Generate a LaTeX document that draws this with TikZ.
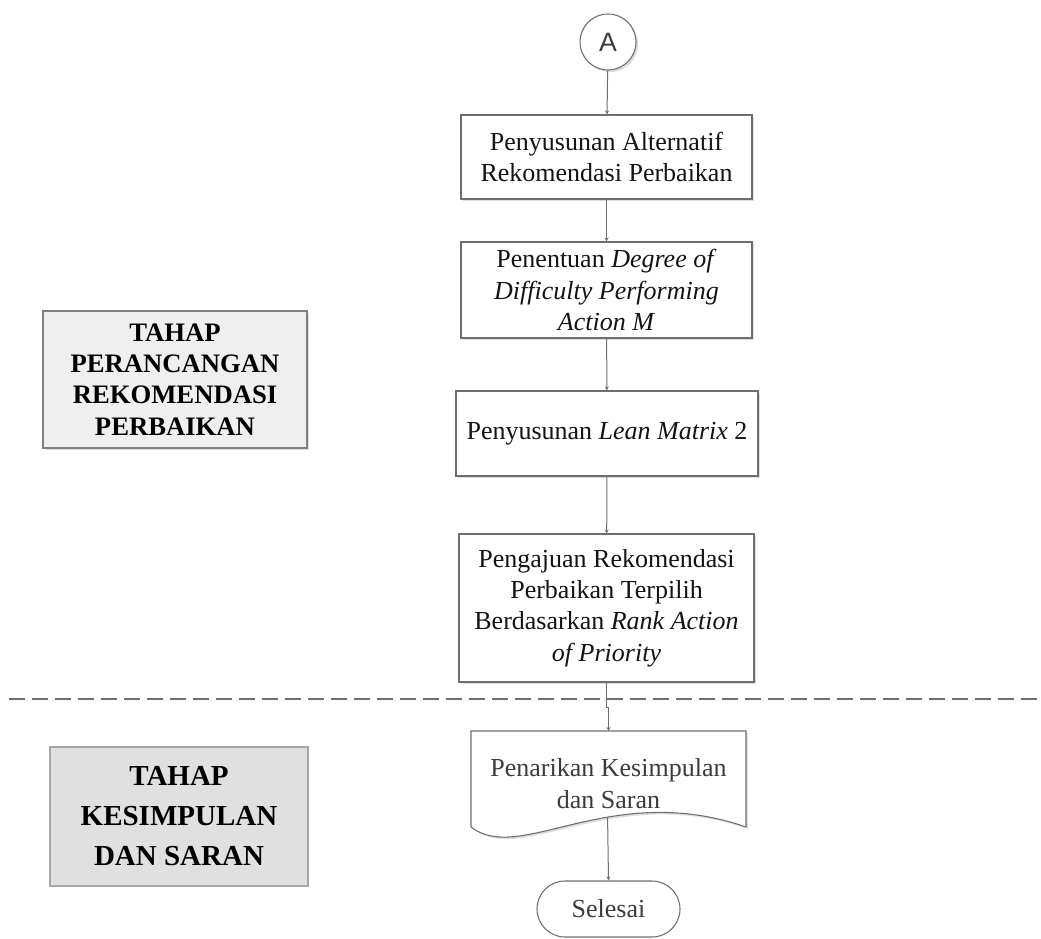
\documentclass[tikz,border=0pt]{standalone}
\usepackage{fontspec}
\setmainfont{Liberation Serif}
\newfontfamily\arialfont{Liberation Sans}
\usetikzlibrary{arrows.meta,shadows}
\definecolor{edgegray}{HTML}{6E6E6E}
\definecolor{linkgray}{HTML}{707070}
\definecolor{textgray}{HTML}{3C3C3C}
\definecolor{phaseA}{HTML}{EFEFEF}
\definecolor{phaseB}{HTML}{E0E0E0}
\tikzset{
  boxshadow/.style={drop shadow={shadow xshift=1.6pt,shadow yshift=-1.6pt,fill=black!22,opacity=0.6}},
  procbox/.style={draw=edgegray,line width=0.8pt,fill=white,boxshadow,align=center,
    inner sep=0pt,font=\fontsize{19.5}{23.5}\selectfont,text=black!92},
  phasebox/.style={line width=0.9pt,align=center,inner sep=0pt,text=black},
  doctext/.style={minimum width=206.25pt,minimum height=60pt,inner sep=0pt,align=center,
    font=\fontsize{19.5}{24}\selectfont,text=textgray},
  link/.style={draw=linkgray,line width=0.75pt,-{Stealth[length=3pt,width=3pt]}},
}
\begin{document}
\begin{tikzpicture}[x=0.75pt,y=-0.75pt]
\useasboundingbox (0,0) rectangle (1041,938);

% connector A
\node[circle,draw=edgegray,line width=0.8pt,fill=white,boxshadow,minimum size=42pt,inner sep=0pt,
  font=\arialfont\fontsize{20}{20}\selectfont,text=textgray] (A) at (608,42) {A};

% process steps
\node[procbox,minimum width=218.25pt,minimum height=63pt] (b1) at (606.5,157)
  {Penyusunan Alternatif\\Rekomendasi Perbaikan};
\node[procbox,minimum width=218.25pt,minimum height=72pt] (b2) at (606.5,290)
  {Penentuan \textit{Degree of}\\\textit{Difficulty Performing}\\\textit{Action M}};
\node[procbox,minimum width=226.5pt,minimum height=63.75pt] (b3) at (607,433.5)
  {Penyusunan \textit{Lean Matrix} 2};
\node[procbox,minimum width=221.25pt,minimum height=111pt] (b4) at (606.5,608)
  {Pengajuan Rekomendasi\\Perbaikan Terpilih\\Berdasarkan \textit{Rank Action}\\\textit{of Priority}};

% document shape with wavy bottom
\coordinate (doc) at (608.5,784);
\fill[black!22,opacity=0.6,shift={(2,2)}] (471,731) -- (746,731) -- (746,827)
  .. controls (610,780) and (520,865) .. (471,827) -- cycle;
\draw[edgegray,line width=0.8pt,fill=white] (471,731) coordinate (docNW) -- (746,731) -- (746,827)
  .. controls (610,780) and (520,865) .. (471,827) -- cycle;
\node[doctext] (doctxt) at (doc) {Penarikan Kesimpulan\\dan Saran};
\coordinate (docN) at (608.5,731);
\path (471,827) .. controls (520,865) and (610,780) .. coordinate[pos=0.61] (docb) (746,827);

% terminator
\node[draw=edgegray,line width=0.8pt,fill=white,rounded corners=21pt,minimum width=107.25pt,
  minimum height=42pt,inner sep=0pt,font=\fontsize{19.5}{19.5}\selectfont,text=textgray] (end) at (608.5,909) {Selesai};

% phase labels
\node[phasebox,draw=black!50,fill=phaseA,boxshadow,minimum width=198pt,minimum height=102.75pt,
  font=\bfseries\fontsize{20}{23.5}\selectfont] (p1) at (175,379.5)
  {TAHAP\\PERANCANGAN\\REKOMENDASI\\PERBAIKAN};
\node[phasebox,draw=black!35,fill=phaseB,minimum width=193.5pt,minimum height=104.25pt,
  font=\bfseries\fontsize{21.75}{30}\selectfont] (p2) at (179,816.5)
  {TAHAP\\KESIMPULAN\\DAN SARAN};

% phase separator
\coordinate (sepL) at (9,699);
\coordinate (sepR) at (1041,699);
\draw[linkgray,line width=1.1pt,dash pattern=on 12pt off 5.25pt] (sepL) -- (sepR);

% flow connectors
\draw[link] (A) -- (b1);
\draw[link] (b1) -- (b2);
\draw[link] (b2) -- (b3);
\draw[link] (b3) -- (b4);
\draw[link] (b4.south) -- ++(0,25) -| (docN);
\draw[link] (docb) -- (end.north);
\end{tikzpicture}
\end{document}
